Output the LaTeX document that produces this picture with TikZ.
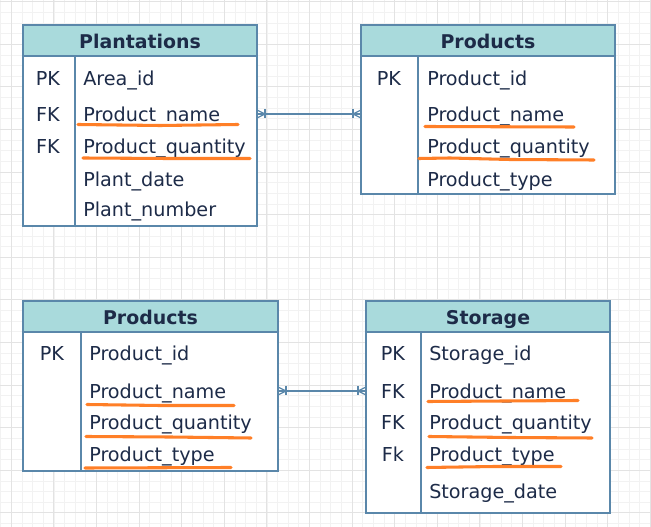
\documentclass[tikz,border=0pt]{standalone}
\usepackage{fontspec}
\setmainfont{DejaVu Sans}
\usepackage{tikz}

\definecolor{headfill}{HTML}{A9DADC}
\definecolor{edgeblue}{HTML}{5A87AA}
\definecolor{inkblue}{HTML}{1D2B48}
\definecolor{marker}{HTML}{FF7F27}

\tikzset{
  tablehead/.style={draw=edgeblue, fill=headfill, line width=1.1pt},
  tablebody/.style={draw=edgeblue, fill=white, line width=1.1pt},
  divline/.style={draw=edgeblue, line width=1.1pt},
  titletext/.style={inner sep=0pt, anchor=base, text=inkblue, font=\fontsize{14.2}{17}\selectfont\bfseries},
  keytext/.style={inner sep=0pt, anchor=base, text=inkblue, font=\fontsize{14.4}{17}\selectfont},
  fieldtext/.style={inner sep=0pt, anchor=base west, text=inkblue, font=\fontsize{14.4}{17}\selectfont},
  link/.style={draw=edgeblue, line width=1pt},
  hilite/.style={draw=marker, line width=2.3pt, line cap=round},
  minorgrid/.style={draw=black!5, line width=0.6pt},
  majorgrid/.style={draw=black!11, line width=0.8pt}
}

\begin{document}
\begin{tikzpicture}[x=0.75pt, y=-0.75pt]

\useasboundingbox (0,0) rectangle (651,527) ;
\clip (0,0) rectangle (651,527) ;

% background grid
\foreach \i in {-2,...,62} {
  \draw [minorgrid] ({11.3+\i*10.65},0) -- ++(0,527) ;
  \draw [minorgrid] (0,{1.7+\i*10.65}) -- ++(651,0) ;
}
\foreach \i in {-1,...,15} {
  \draw [majorgrid] ({11.3+\i*42.6},0) -- ++(0,527) ;
  \draw [majorgrid] (0,{1.7+\i*42.6}) -- ++(651,0) ;
}

% Plantations
\draw [tablebody] (23,56) rectangle (257,226) ;
\draw [tablehead] (23,25) rectangle (257,56) ;
\draw [divline] (75,56) -- (75,226) ;
\node [titletext] (plantTitle) at (140,48.7) {Plantations} ;
\node [keytext] (plantK1) at (48,86) {PK} ;
\node [keytext] (plantK2) at (48,122) {FK} ;
\node [keytext] (plantK3) at (48,154) {FK} ;
\node [fieldtext] (plantF1) at (83,86) {Area\_id} ;
\node [fieldtext] (plantF2) at (83,122) {Product\_name} ;
\node [fieldtext] (plantF3) at (83,154) {Product\_quantity} ;
\node [fieldtext] (plantF4) at (83,187) {Plant\_date} ;
\node [fieldtext] (plantF5) at (83,217) {Plant\_number} ;
\coordinate (plantR) at (257,114) ;

% Products (top)
\draw [tablebody] (361,56) rectangle (615,194) ;
\draw [tablehead] (361,25) rectangle (615,56) ;
\draw [divline] (418,56) -- (418,194) ;
\node [titletext] (prodTitle) at (488,48.7) {Products} ;
\node [keytext] (prodK1) at (389,86) {PK} ;
\node [fieldtext] (prodF1) at (427,86) {Product\_id} ;
\node [fieldtext] (prodF2) at (427,122) {Product\_name} ;
\node [fieldtext] (prodF3) at (427,154) {Product\_quantity} ;
\node [fieldtext] (prodF4) at (427,187) {Product\_type} ;
\coordinate (prodL) at (361,114) ;

% Products (bottom)
\draw [tablebody] (23,332) rectangle (278,471) ;
\draw [tablehead] (23,301) rectangle (278,332) ;
\draw [divline] (81,332) -- (81,471) ;
\node [titletext] (itemTitle) at (150.5,325) {Products} ;
\node [keytext] (itemK1) at (52,361) {PK} ;
\node [fieldtext] (itemF1) at (89,361) {Product\_id} ;
\node [fieldtext] (itemF2) at (89,399) {Product\_name} ;
\node [fieldtext] (itemF3) at (89,430) {Product\_quantity} ;
\node [fieldtext] (itemF4) at (89,462) {Product\_type} ;
\coordinate (itemR) at (278,391) ;

% Storage
\draw [tablebody] (366,332) rectangle (610,513) ;
\draw [tablehead] (366,301) rectangle (610,332) ;
\draw [divline] (421,332) -- (421,513) ;
\node [titletext] (storTitle) at (488,325) {Storage} ;
\node [keytext] (storK1) at (393,361) {PK} ;
\node [keytext] (storK2) at (393,399) {FK} ;
\node [keytext] (storK3) at (393,430) {FK} ;
\node [keytext] (storK4) at (393,462) {Fk} ;
\node [fieldtext] (storF1) at (429,361) {Storage\_id} ;
\node [fieldtext] (storF2) at (429,399) {Product\_name} ;
\node [fieldtext] (storF3) at (429,430) {Product\_quantity} ;
\node [fieldtext] (storF4) at (429,462) {Product\_type} ;
\node [fieldtext] (storF5) at (429,499) {Storage\_date} ;
\coordinate (storL) at (366,391) ;

% relations, crow's foot with bar at both ends
\draw [link] (plantR) -- (prodL) ;
\draw [link] (plantR) ++(0,-4) -- ++(8,4) -- ++(-8,4) ;
\draw [link] (plantR) ++(8,-4.5) -- ++(0,9) ;
\draw [link] (prodL) ++(0,-4) -- ++(-8,4) -- ++(8,4) ;
\draw [link] (prodL) ++(-8,-4.5) -- ++(0,9) ;

\draw [link] (itemR) -- (storL) ;
\draw [link] (itemR) ++(0,-4) -- ++(8,4) -- ++(-8,4) ;
\draw [link] (itemR) ++(8,-4.5) -- ++(0,9) ;
\draw [link] (storL) ++(0,-4) -- ++(-8,4) -- ++(8,4) ;
\draw [link] (storL) ++(-8,-4.5) -- ++(0,9) ;

% orange marker strokes
\draw [hilite] (78,124.5) -- (160,125.5) -- (238,124.5) ;
\draw [hilite] (83,158) -- (168,158.5) -- (250,158.5) ;
\draw [hilite] (425,126.5) -- (574,127) ;
\draw [hilite] (419,158.5) -- (450,158) -- (510,159.5) -- (594,160) ;
\draw [hilite] (87,404.5) -- (160,405.5) -- (234,405.5) ;
\draw [hilite] (86,436.5) -- (170,437) -- (251,438) ;
\draw [hilite] (85,468) -- (231,467.5) ;
\draw [hilite] (428,401.5) -- (505,401) -- (578,400.5) ;
\draw [hilite] (429,436.5) -- (510,437.5) -- (592,438) ;
\draw [hilite] (427,467.5) -- (495,466.5) -- (561,466.5) ;
\end{tikzpicture}
\end{document}
